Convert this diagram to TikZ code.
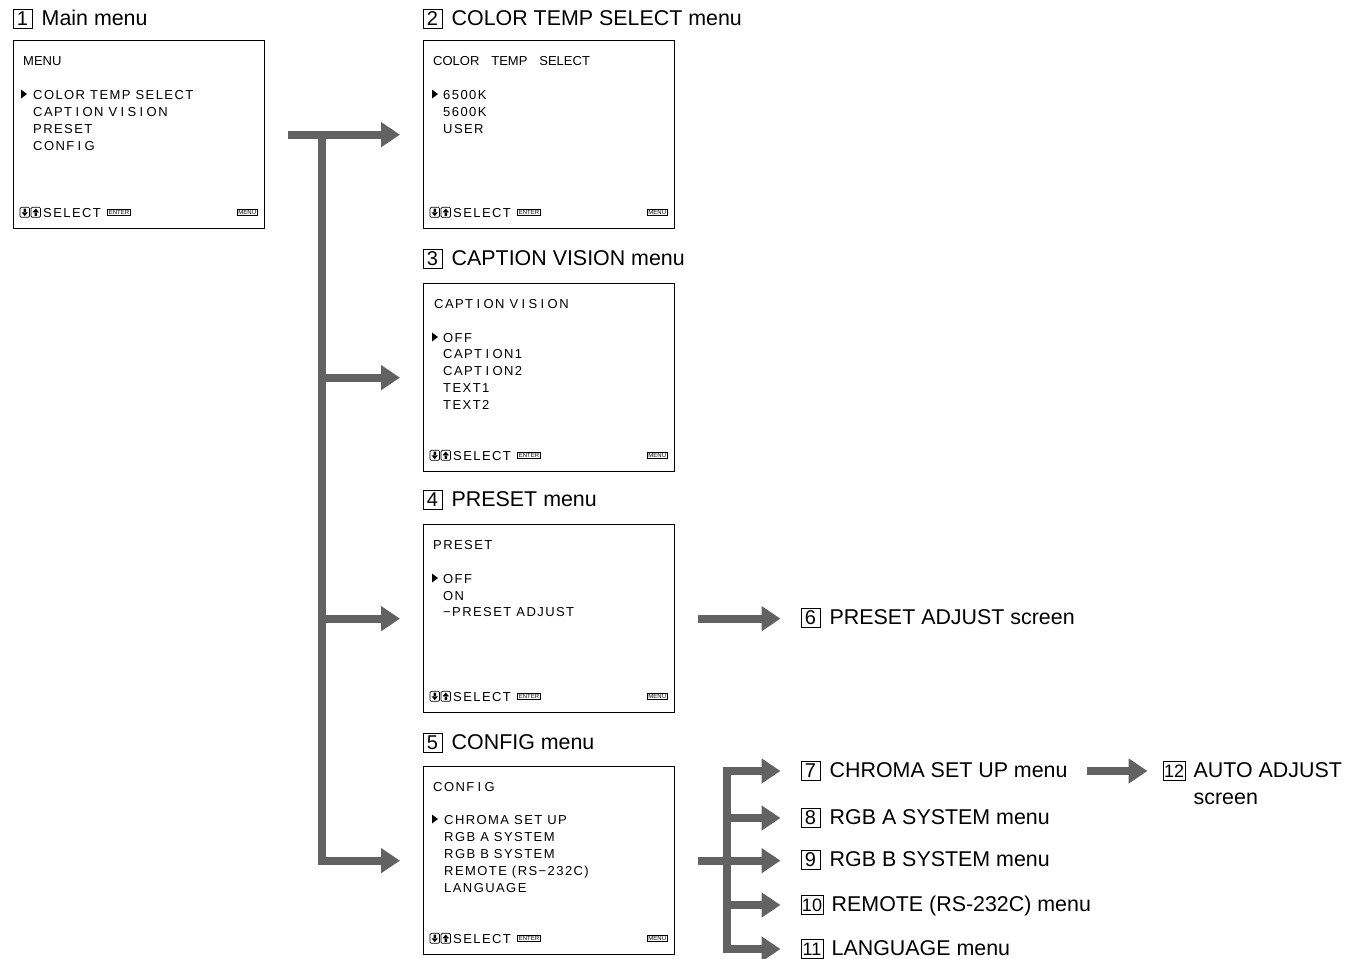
\documentclass[tikz,border=0pt]{standalone}
\usepackage{fontspec}
\setmainfont{Liberation Sans}
\newfontfamily\osdfont[LetterSpace=11]{Liberation Sans}
\newfontfamily\osdheadfont[WordSpace=3.3]{Liberation Sans}
\newcommand\osdI{\hspace{3.4pt}I\hspace{3.4pt}}
\usetikzlibrary{%
  arrows.meta,%
  calc,%
  positioning,%
}
\definecolor{flowgray}{RGB}{98,98,98}

\tikzset{
  osdscreen/.style={draw, line width=1.3pt, minimum width=251pt,
    minimum height=188pt, inner sep=0pt, anchor=north west},
  osd/.style={font=\osdfont\fontsize{13}{13}\selectfont, inner sep=0pt,
    anchor=base west},
  osdhead/.style={osd, font=\osdheadfont\fontsize{13}{13}\selectfont},
  numbox/.style={draw, line width=1pt, minimum width=19pt,
    minimum height=19pt, inner sep=0pt, font=\fontsize{20}{20}\selectfont},
  widenumbox/.style={numbox, minimum width=22pt,
    font=\fontsize{18}{18}\selectfont},
  heading/.style={inner sep=0pt, font=\fontsize{21.4}{21.4}\selectfont},
  flowarrow/.style={draw=flowgray, color=flowgray, line width=8.2pt,
    -{Triangle[length=19pt, width=24pt]}},
  keycap/.style={draw, line width=0.6pt, inner sep=1.1pt,
    font=\fontsize{6}{6}\selectfont},
  cursor/.pic={\fill (0,-4.5) -- (6,0) -- (0,4.5) -- cycle;},
  updown/.pic={
    \draw [line width=0.7pt, rounded corners=1.2pt]
      (0,-5) rectangle (9.5,5) (11,-5) rectangle (20.5,5);
    % down, then up
    \fill (3.5,-3.6) rectangle (6,0.5) (1.5,0) -- (8,0) -- (4.75,3.8) -- cycle;
    \fill (14.5,3.6) rectangle (17,-0.5) (12.5,0) -- (19,0) -- (15.75,-3.8) -- cycle;
  },
}

\begin{document}
\begin{tikzpicture}[x=1pt, y=-1pt]

      \useasboundingbox (0,0) rectangle (1353,959);

      % screens
      \node [osdscreen] (main) at (13,40) {};
      \node [osdscreen] (colortemp) at (423,40) {};
      \node [osdscreen] (caption) at (423,283) {};
      \node [osdscreen] (preset) at (423,524) {};
      \node [osdscreen] (config) at (423,766) {};

      \node [numbox] (n1) at (22.5,18.5) {1};
      \node [heading, base right=9pt of n1] (t1) {Main menu};
      \node [numbox] (n2) at (432.5,19) {2};
      \node [heading, base right=9pt of n2] (t2) {COLOR TEMP SELECT menu};
      \node [numbox] (n3) at (432.5,259) {3};
      \node [heading, base right=9pt of n3] (t3) {CAPTION VISION menu};
      \node [numbox] (n4) at (432.5,500) {4};
      \node [heading, base right=9pt of n4] (t4) {PRESET menu};
      \node [numbox] (n5) at (432.5,743) {5};
      \node [heading, base right=9pt of n5] (t5) {CONFIG menu};

      % screen texts
      \node [osdhead] (main-head) at ([shift={(10,25)}]main.north west) {MENU};
      \foreach \t [count=\i] in {COLOR TEMP SELECT, CAPT\osdI ON V\osdI S\osdI ON,
          PRESET, CONF\osdI G}
        \node [osd] (main-\i) at ([shift={(20,42+17*\i)}]main.north west) {\t};
      \pic at ([shift={(8,54)}]main.north west) {cursor};

      \node [osdhead] (colortemp-head) at ([shift={(10,25)}]colortemp.north west)
        {COLOR TEMP SELECT};
      \foreach \t [count=\i] in {6500K, 5600K, USER}
        \node [osd] (colortemp-\i) at ([shift={(20,42+17*\i)}]colortemp.north west) {\t};
      \pic at ([shift={(9,54)}]colortemp.north west) {cursor};

      \node [osd] (caption-head) at ([shift={(11,25)}]caption.north west)
        {CAPT\osdI ON V\osdI S\osdI ON};
      \foreach \t [count=\i] in {OFF, CAPT\osdI ON1, CAPT\osdI ON2, TEXT1, TEXT2}
        \node [osd] (caption-\i) at ([shift={(20,42.2+16.8*\i)}]caption.north west) {\t};
      \pic at ([shift={(9,54)}]caption.north west) {cursor};

      \node [osd] (preset-head) at ([shift={(10,25)}]preset.north west) {PRESET};
      \foreach \t [count=\i] in {OFF, ON, {−PRESET ADJUST}}
        \node [osd] (preset-\i) at ([shift={(20,42.5+16.8*\i)}]preset.north west) {\t};
      \pic at ([shift={(9,54)}]preset.north west) {cursor};

      \node [osd] (config-head) at ([shift={(10,25)}]config.north west) {CONF\osdI G};
      \foreach \t [count=\i] in {CHROMA SET UP, RGB A SYSTEM, RGB B SYSTEM,
          REMOTE (RS−232C), LANGUAGE}
        \node [osd] (config-\i) at ([shift={(21,41+17*\i)}]config.north west) {\t};
      \pic at ([shift={(9,53)}]config.north west) {cursor};

      \foreach \scr in {main, colortemp, caption, preset, config} {
        \pic at ([shift={(7,-17)}]\scr.south west) {updown};
        \node [osd] (\scr-select) at ([shift={(30,-12.3)}]\scr.south west) {SELECT};
        \node [keycap] (\scr-enter) at ([shift={(106,-17)}]\scr.south west) {ENTER};
        \node [keycap] (\scr-menu) at ([shift={(-18,-17)}]\scr.south east) {MENU};
      }

      % right hand side
      \node [numbox] (n6) at (810.5,618) {6};
      \node [heading, base right=9pt of n6] (t6) {PRESET ADJUST screen};
      \node [numbox] (n7) at (810.5,771) {7};
      \node [heading, base right=9pt of n7] (t7) {CHROMA SET UP menu};
      \node [numbox] (n8) at (810.5,818) {8};
      \node [heading, base right=9pt of n8] (t8) {RGB A SYSTEM menu};
      \node [numbox] (n9) at (810.5,860) {9};
      \node [heading, base right=9pt of n9] (t9) {RGB B SYSTEM menu};
      \node [widenumbox] (n10) at (812,905) {10};
      \node [heading, base right=8pt of n10] (t10) {REMOTE (RS-232C) menu};
      \node [widenumbox] (n11) at (812,949) {11};
      \node [heading, base right=8pt of n11] (t11) {LANGUAGE menu};
      \node [widenumbox] (n12) at (1174,771) {12};
      \node [heading, base right=8pt of n12] (t12) {AUTO ADJUST};
      \node [heading, anchor=base west] (t12b) at ([shift={(0,27)}]t12.base west)
        {screen};

      % arrows
      \coordinate (trunk) at ([xshift=57pt]main.east);
      \draw [flowarrow] ([xshift=23pt]main.east) -- ([xshift=-23pt]colortemp.west);
      \draw [flowarrow] (trunk) |- ([xshift=-23pt]config.west);
      \draw [flowarrow] (trunk |- caption.west) -- ([xshift=-23pt]caption.west);
      \draw [flowarrow] (trunk |- preset.west) -- ([xshift=-23pt]preset.west);

      \draw [flowarrow] ([xshift=23pt]preset.east) -- ($(preset.east -| n6.west)+(-20,0)$);

      \coordinate (fork) at ([xshift=52pt]config.east);
      \draw [flowarrow] ([xshift=23pt]config.east) -- ($(config.east -| n9.west)+(-20,0)$);
      \draw [flowarrow] (fork |- n11) |- ([xshift=-20pt]n7.west);
      \draw [flowarrow] (fork |- n7) |- ([xshift=-20pt]n11.west);
      \draw [flowarrow] (fork |- n8) -- ([xshift=-20pt]n8.west);
      \draw [flowarrow] (fork |- n10) -- ([xshift=-20pt]n10.west);

      \draw [flowarrow] ($(n12.west -| t7.east)+(19,0)$) -- ([xshift=-15pt]n12.west);

    \end{tikzpicture}
\end{document}
